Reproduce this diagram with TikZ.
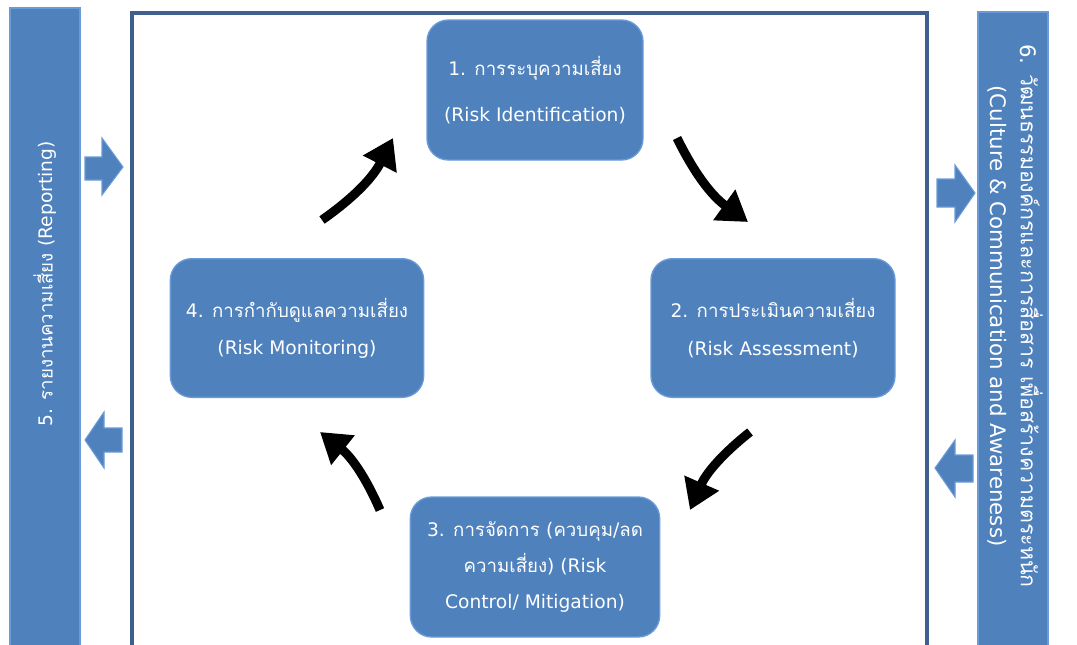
\documentclass[tikz,border=0pt]{standalone}
\usepackage{fontspec}
\setmainfont[Script=Thai]{Loma}
\newfontfamily\latinf{DejaVu Sans}
\usetikzlibrary{arrows.meta}

\definecolor{boxblue}{HTML}{4F81BD}
\definecolor{edgeblue}{HTML}{6A9BD8}
\definecolor{framblue}{HTML}{3F5F8E}

\newcommand{\lt}[1]{{\latinf #1}}

\tikzset{
  stage/.style={rectangle, rounded corners=16pt, fill=boxblue, draw=edgeblue,
    line width=1pt, text=white, align=center},
  bartext/.style={text=white, align=center},
  cyc/.style={line width=6.8pt, -{Triangle[length=22pt,width=27pt]}},
  blockarr/.style={fill=boxblue, draw=edgeblue, line width=0.8pt, line join=miter}
}

\begin{document}
\begin{tikzpicture}[x=0.75pt, y=-0.75pt]
    \useasboundingbox (0,0) rectangle (1077,644);
    \clip (0,0) rectangle (1077,644);

    % Side bars and centre frame
    \fill[boxblue, draw=edgeblue, line width=1pt] (10,8) rectangle (80,660);
    \fill[boxblue, draw=edgeblue, line width=1pt] (978,12) rectangle (1048,660);
    \draw[framblue, line width=2.4pt] (132,13) rectangle (927,660);

    % Bar labels
    \node[bartext, rotate=90, font=\fontsize{14}{20}\selectfont] (report) at (45,284)
      {\lt{5.} รายงานความเสี่ยง \lt{(Reporting)}};
    \node[bartext, rotate=-90, font=\fontsize{16}{23}\selectfont] (culture) at (1015,316)
      {\lt{6.} วัฒนธรรมองค์กรและการสื่อสาร เพื่อสร้างความตระหนัก\\\lt{(Culture \& Communication and Awareness)}};

    % The four stages
    \node[stage, minimum width=162pt, minimum height=105pt,
      font=\fontsize{14}{35}\selectfont] (ident) at (535,90)
      {\lt{1.} การระบุความเสี่ยง\\\lt{(Risk Identification)}};
    \node[stage, minimum width=183pt, minimum height=104pt,
      font=\fontsize{14}{28}\selectfont] (assess) at (773,328)
      {\lt{2.} การประเมินความเสี่ยง\\\lt{(Risk Assessment)}};
    \node[stage, minimum width=187pt, minimum height=105pt,
      font=\fontsize{14}{27}\selectfont] (control) at (535,567)
      {\lt{3.} การจัดการ \lt{(}ควบคุม\lt{/}ลด\\ความเสี่ยง\lt{) (Risk}\\\lt{Control/ Mitigation)}};
    \node[stage, minimum width=190pt, minimum height=104pt,
      font=\fontsize{14}{28}\selectfont] (monitor) at (297,328)
      {\lt{4.} การกำกับดูแลความเสี่ยง\\\lt{(Risk Monitoring)}};

    % Arrow ends of the cycle
    \coordinate (c1s) at (322,220); \coordinate (c1e) at (393,138);
    \coordinate (c2s) at (677,138); \coordinate (c2e) at (748,222);
    \coordinate (c3s) at (750,432); \coordinate (c3e) at (690,510);
    \coordinate (c4s) at (380,510); \coordinate (c4e) at (320,432);

    % Cycle arrows
    \draw[cyc] (c1s) to[bend right=14] (c1e);
    \draw[cyc] (c2s) to[bend right=14] (c2e);
    \draw[cyc] (c3s) to[bend right=14] (c3e);
    \draw[cyc] (c4s) to[bend right=14] (c4e);

    % Block arrows beside the frame
    \draw[blockarr] (85,157) -- (102,157) -- (102,138) -- (123,167) -- (102,195)
      -- (102,180) -- (85,180) -- cycle;
    \draw[blockarr] (122,428) -- (104,428) -- (104,412) -- (85,440) -- (104,468)
      -- (104,452) -- (122,452) -- cycle;
    \draw[blockarr] (937,179) -- (955,179) -- (955,165) -- (975,193) -- (955,222)
      -- (955,207) -- (937,207) -- cycle;
    \draw[blockarr] (973,455) -- (955,455) -- (955,440) -- (935,468) -- (955,497)
      -- (955,482) -- (973,482) -- cycle;

\end{tikzpicture}
\end{document}
